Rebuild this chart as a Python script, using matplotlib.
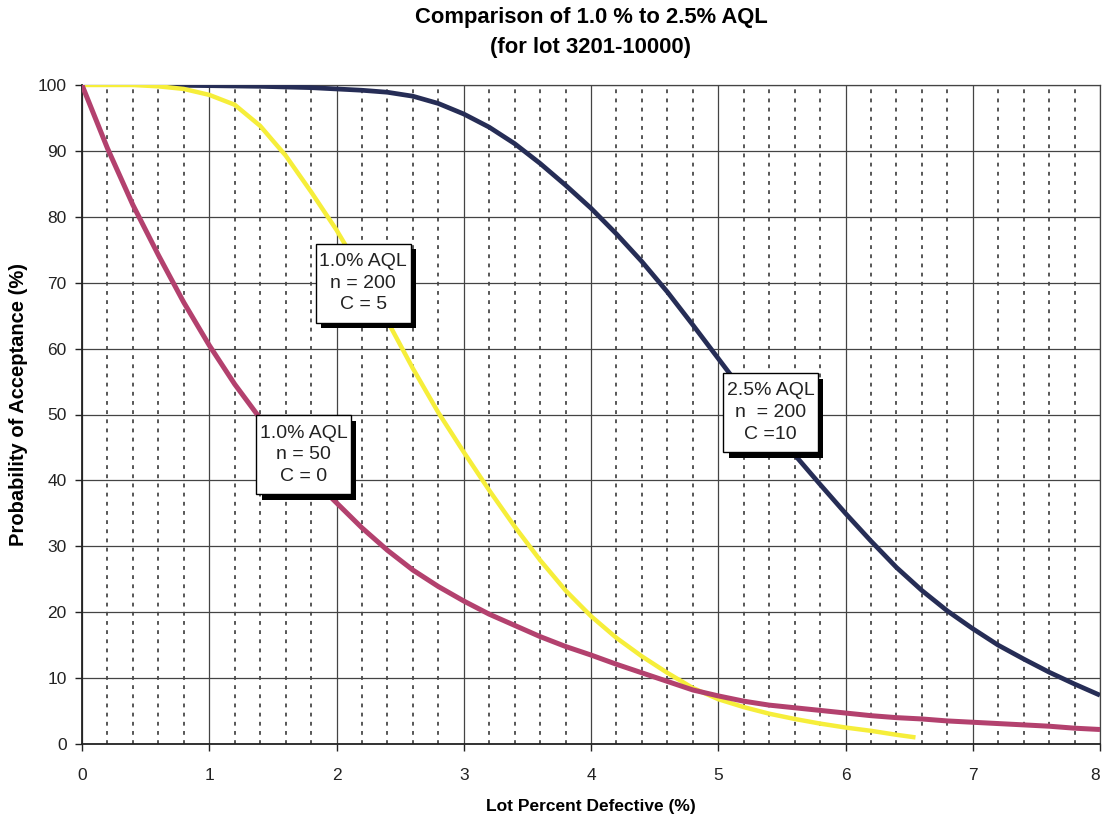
import matplotlib
matplotlib.use("Agg")
import matplotlib.pyplot as plt
import matplotlib.patheffects as pe
from matplotlib.patches import Rectangle
from matplotlib.ticker import MultipleLocator

plt.rcParams['font.family'] = ['Liberation Sans', 'DejaVu Sans']

# ---- data ----
x_c0 = [0.0, 0.2, 0.4, 0.6, 0.8, 1.0, 1.2, 1.4, 1.6, 1.8, 2.0, 2.2, 2.4, 2.6, 2.8,
        3.0, 3.2, 3.4, 3.6, 3.8, 4.0, 4.2, 4.4, 4.6, 4.8, 5.0, 5.2, 5.4, 5.6, 5.8,
        6.0, 6.2, 6.4, 6.6, 6.8, 7.0, 7.2, 7.4, 7.6, 7.8, 8.0]
pa_n50_c0 = [100, 90.4, 81.8, 74.2, 67.0, 60.5, 54.6, 49.4, 44.6, 40.4, 36.6, 32.8, 29.4, 26.4, 23.9,
             21.7, 19.7, 18.0, 16.3, 14.8, 13.5, 12.1, 10.8, 9.5, 8.2, 7.3, 6.5, 5.9, 5.5, 5.1,
             4.7, 4.3, 4.0, 3.8, 3.5, 3.3, 3.1, 2.9, 2.7, 2.4, 2.2]

x_c5 = [0.0, 0.2, 0.4, 0.6, 0.8, 1.0, 1.2, 1.4, 1.6, 1.8, 2.0, 2.2, 2.4, 2.6, 2.8,
        3.0, 3.2, 3.4, 3.6, 3.8, 4.0, 4.2, 4.4, 4.6, 4.8, 5.0, 5.2, 5.4, 5.6, 5.8,
        6.0, 6.2, 6.4, 6.55]
pa_n200_c5 = [100, 100, 100, 99.8, 99.4, 98.5, 97, 93.8, 89.3, 83.8, 78, 71.5, 64.2, 57, 50.3,
              44.3, 38.5, 33, 27.9, 23.3, 19.4, 16.1, 13.3, 10.8, 8.5, 6.8, 5.6, 4.6, 3.8, 3.1,
              2.5, 2.0, 1.4, 1.0]

x_c10 = [0.6, 1.0, 1.4, 1.8, 2.0, 2.2, 2.4, 2.6, 2.8, 3.0, 3.2, 3.4, 3.6, 3.8, 4.0,
         4.2, 4.4, 4.6, 4.8, 5.0, 5.2, 5.4, 5.6, 5.8, 6.0, 6.2, 6.4, 6.6, 6.8, 7.0,
         7.2, 7.4, 7.6, 7.8, 8.0]
pa_n200_c10 = [100, 99.9, 99.8, 99.6, 99.4, 99.2, 98.9, 98.3, 97.2, 95.6, 93.6, 91.1, 88.1, 84.8, 81.3,
               77.4, 73.2, 68.6, 63.6, 58.5, 53.4, 48.5, 43.9, 39.4, 35.0, 30.8, 26.8, 23.3, 20.2, 17.5,
               15.0, 12.9, 10.9, 9.1, 7.4]

x_ticks = [0, 1, 2, 3, 4, 5, 6, 7, 8]
labels = ["1.0% AQL\nn = 200\nC = 5", "1.0% AQL\nn = 50\nC = 0", "2.5% AQL\nn  = 200\nC =10"]
label_xy = [(2.21, 69.9), (1.74, 43.9), (5.41, 50.3)]

title = "Comparison of 1.0 % to 2.5% AQL\n(for lot 3201-10000)"
xlabel = "Lot Percent Defective (%)"
ylabel = "Probability of Acceptance (%)"

# ---- figure ----
fig = plt.figure(figsize=(11.02, 8.14), dpi=100)
ax = fig.add_axes([82/1102, 1-744/814, (1100-82)/1102, (744-85)/814])

ax.set_xlim(0, 8)
ax.set_ylim(0, 100)
ax.set_xticks(x_ticks)
ax.set_xticklabels([str(t) for t in x_ticks])
ax.xaxis.set_minor_locator(MultipleLocator(0.2))
ax.yaxis.set_major_locator(MultipleLocator(10))

ax.grid(which='major', axis='both', color='#444444', linewidth=0.9, linestyle='-')
ax.grid(which='minor', axis='x', color='#2a2a2a', linewidth=1.1, linestyle=(0, (2.5, 3.5)))
ax.set_axisbelow(True)

ax.plot(x_c10, pa_n200_c10, color='#262d56', linewidth=3.4, solid_capstyle='butt',
        solid_joinstyle='round', zorder=3)
ax.plot(x_c5, pa_n200_c5, color='#f6ee3a', linewidth=3.2, solid_capstyle='butt',
        solid_joinstyle='round', zorder=4)
ax.plot(x_c0, pa_n50_c0, color='#b3416e', linewidth=3.6, solid_capstyle='butt',
        solid_joinstyle='round', zorder=5)

bw, bh = 0.745, 12.0
for (cx, cy), txt in zip(label_xy, labels):
    r = Rectangle((cx - bw/2, cy - bh/2), bw, bh, facecolor='white', edgecolor='black',
                  linewidth=1.0, zorder=6,
                  path_effects=[pe.SimplePatchShadow(offset=(4, -4), shadow_rgbFace='black', alpha=1.0),
                                pe.Normal()])
    ax.add_patch(r)
    ax.text(cx, cy, txt, ha='center', va='center', fontsize=14, linespacing=1.35,
            color='#222222', zorder=7)

for s in ['left', 'bottom']:
    ax.spines[s].set_color('#222222')
    ax.spines[s].set_linewidth(1.3)
for s in ['top', 'right']:
    ax.spines[s].set_color('#444444')
    ax.spines[s].set_linewidth(0.9)

ax.tick_params(axis='both', which='major', direction='out', length=5, width=1, labelsize=12.5,
               colors='#222222')
ax.tick_params(axis='x', which='minor', length=0)
ax.tick_params(axis='x', which='major', pad=12)
ax.tick_params(axis='y', which='major', pad=6)
# keep the last x tick label inside the figure
ax.xaxis.get_major_ticks()[-1].label1.set_horizontalalignment('right')

ax.set_xlabel(xlabel, fontsize=12.5, fontweight='bold', labelpad=12)
ax.set_ylabel(ylabel, fontsize=14.5, fontweight='bold')
ax.yaxis.set_label_coords(-0.053, 0.515)
fig.text(591/1102, 1-32.5/814, title, ha='center', va='center', fontsize=15.8, fontweight='bold',
         linespacing=1.5)

fig.savefig("out.png", dpi=100)
